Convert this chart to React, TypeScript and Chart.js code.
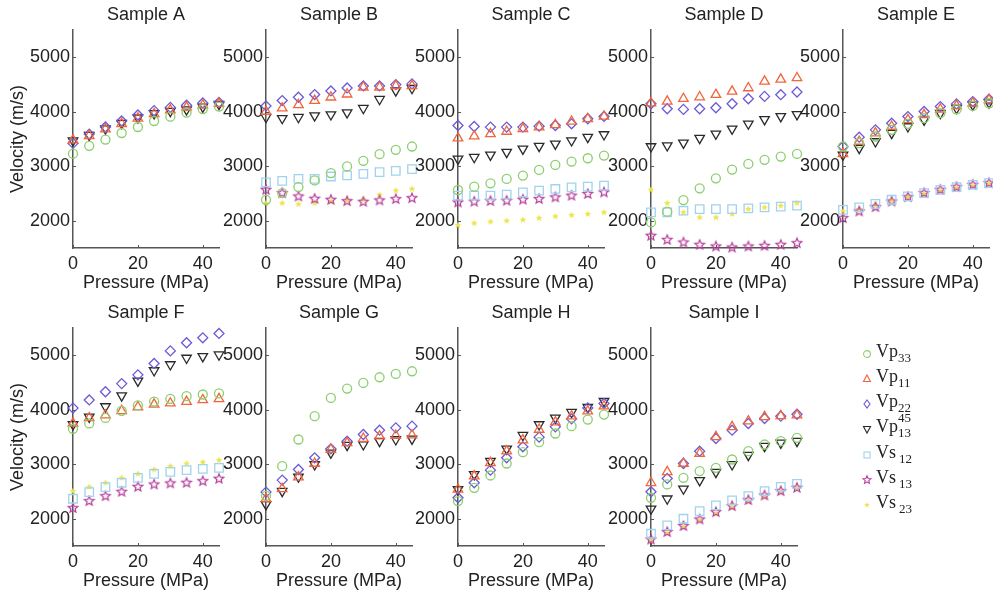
import React, { useEffect, useRef } from 'react';
import { Chart, registerables } from 'chart.js';

Chart.register(...registerables);

// ---------- data ----------
const pressure = [0, 5, 10, 15, 20, 25, 30, 35, 40, 45];
const xTickValues = [0, 20, 40];
const yTickValues = [2000, 3000, 4000, 5000];
const seriesNames = ['Vp33', 'Vp11', 'Vp22', 'Vp13', 'Vs12', 'Vs13', 'Vs23'];
const panelTitles = ['Sample A', 'Sample B', 'Sample C', 'Sample D', 'Sample E', 'Sample F', 'Sample G', 'Sample H', 'Sample I'];

// order of rows: Vp33, Vp11, Vp22, Vp13, Vs12, Vs13, Vs23 (null = not measured)
const sampleA = [
  [3230, 3375, 3490, 3610, 3720, 3830, 3910, 3985, 4050, 4095],
  [3480, 3560, 3680, 3780, 3880, 3960, 4030, 4080, 4120, 4150],
  [3420, 3590, 3720, 3830, 3940, 4020, 4080, 4120, 4160, 4170],
  [3470, 3570, 3690, 3790, 3890, 3970, 4010, 4040, 4090, 4140],
  null, null, null,
];
const sampleB = [
  [2385, 2507, 2617, 2739, 2874, 2996, 3100, 3222, 3301, 3362],
  [4004, 4065, 4126, 4205, 4266, 4321, 4450, 4450, 4474, 4474],
  [4107, 4205, 4266, 4315, 4382, 4437, 4474, 4474, 4498, 4511],
  [3900, 3880, 3900, 3930, 3949, 3985, 4065, 4230, 4388, 4431],
  [2703, 2733, 2770, 2770, 2812, 2831, 2861, 2892, 2916, 2947],
  [2568, 2507, 2446, 2403, 2385, 2360, 2348, 2373, 2397, 2415],
  [2324, 2324, 2305, 2324, 2354, 2373, 2385, 2476, 2556, 2586],
];
const sampleC = [
  [2564, 2626, 2687, 2767, 2828, 2933, 3025, 3086, 3147, 3196],
  [3515, 3552, 3595, 3638, 3687, 3718, 3761, 3822, 3871, 3914],
  [3748, 3730, 3718, 3718, 3718, 3736, 3748, 3779, 3871, 3914],
  [3135, 3166, 3208, 3258, 3319, 3368, 3411, 3472, 3534, 3583],
  [2460, 2460, 2460, 2479, 2521, 2552, 2583, 2613, 2626, 2644],
  [2337, 2350, 2362, 2368, 2387, 2399, 2429, 2460, 2491, 2521],
  [1920, 1957, 1982, 2000, 2018, 2049, 2080, 2104, 2123, 2153],
];
const sampleD = [
  [1969, 2166, 2380, 2595, 2779, 2939, 3043, 3117, 3178, 3227],
  [4160, 4190, 4239, 4270, 4313, 4374, 4436, 4558, 4595, 4620],
  [4147, 4055, 4043, 4055, 4074, 4147, 4239, 4282, 4313, 4362],
  [3362, 3380, 3429, 3515, 3595, 3687, 3779, 3859, 3914, 3951],
  [2153, 2153, 2184, 2215, 2215, 2215, 2227, 2245, 2258, 2276],
  [1724, 1650, 1601, 1558, 1528, 1509, 1528, 1540, 1558, 1589],
  [2570, 2325, 2153, 2061, 2061, 2123, 2215, 2245, 2276, 2325],
];
const sampleE = [
  [3362, 3423, 3546, 3668, 3778, 3882, 3973, 4046, 4107, 4156],
  [3228, 3454, 3607, 3729, 3851, 3943, 4046, 4107, 4156, 4217],
  [3362, 3533, 3668, 3790, 3912, 4004, 4095, 4144, 4187, 4230],
  [3210, 3332, 3454, 3607, 3729, 3851, 3973, 4065, 4126, 4168],
  [2200, 2244, 2311, 2385, 2446, 2507, 2568, 2617, 2660, 2690],
  [2049, 2171, 2250, 2354, 2434, 2507, 2568, 2617, 2660, 2690],
  [2171, 2214, 2293, 2366, 2434, 2495, 2550, 2599, 2641, 2678],
];
const sampleF = [
  [3650, 3750, 3850, 3980, 4080, 4150, 4200, 4250, 4280, 4300],
  [3750, 3850, 3900, 3980, 4050, 4100, 4120, 4150, 4180, 4200],
  [4030, 4180, 4330, 4480, 4640, 4850, 5080, 5230, 5320, 5400],
  [3730, 3870, 4060, 4260, 4530, 4720, 4830, 4950, 4980, 5010],
  [2367, 2489, 2580, 2660, 2751, 2825, 2861, 2892, 2916, 2935],
  [2195, 2324, 2415, 2495, 2586, 2629, 2648, 2660, 2690, 2733],
  [2507, 2586, 2660, 2751, 2825, 2904, 2965, 3014, 3038, 3075],
];
const sampleG = [
  [2420, 2965, 3454, 3882, 4217, 4389, 4492, 4596, 4657, 4706],
  [2367, 2550, 2764, 3014, 3271, 3393, 3472, 3515, 3527, 3533],
  [2489, 2709, 2904, 3118, 3283, 3423, 3546, 3625, 3668, 3699],
  [2263, 2507, 2770, 2996, 3210, 3350, 3362, 3423, 3454, 3466],
  null, null, null,
];
const sampleH = [
  [2324, 2568, 2794, 3014, 3222, 3405, 3564, 3699, 3820, 3912],
  [2538, 2782, 3026, 3240, 3442, 3638, 3772, 3882, 3973, 4065],
  [2385, 2660, 2892, 3118, 3320, 3497, 3686, 3833, 4034, 4114],
  [2538, 2813, 3057, 3283, 3533, 3729, 3851, 3955, 4046, 4156],
  null, null, null,
];
const sampleI = [
  [2385, 2629, 2751, 2874, 2935, 3087, 3240, 3362, 3423, 3484],
  [2660, 2861, 3014, 3197, 3503, 3686, 3790, 3870, 3888, 3900],
  [2495, 2740, 3014, 3240, 3472, 3625, 3747, 3839, 3882, 3918],
  [2183, 2367, 2550, 2703, 2855, 2996, 3167, 3332, 3393, 3423],
  [1725, 1878, 2000, 2141, 2245, 2336, 2415, 2507, 2586, 2641],
  [1620, 1756, 1866, 1988, 2122, 2232, 2342, 2428, 2507, 2568],
  [1600, 1740, 1850, 1970, 2100, 2210, 2320, 2410, 2490, 2560],
];
const samples = [sampleA, sampleB, sampleC, sampleD, sampleE, sampleF, sampleG, sampleH, sampleI];

// ---------- style ----------
const FONT = "'Liberation Sans', Arial, Helvetica, sans-serif";
const TEXT = '#222222';
const AXIS = '#555555';
const colors = ['#8ccf6e', '#f2643c', '#6b5bd6', '#2a2a2a', '#9fd3ee', '#b8409c', '#efe24a'];

const COL_LEFT = [73, 266, 458, 651, 843];
const ROW_TOP = [0, 298];
const Y_AXIS_W = 73;
const AREA_W = 146;
const PAD_R = 14;
const AREA_H = 218;
const TITLE_H = 30;
const X_AXIS_H = 60;

function starPoints(cx: number, cy: number, R: number, r: number) {
  const pts: [number, number][] = [];
  for (let i = 0; i < 10; i++) {
    const a = -Math.PI / 2 + (i * Math.PI) / 5;
    const rad = i % 2 === 0 ? R : r;
    pts.push([cx + Math.cos(a) * rad, cy + Math.sin(a) * rad]);
  }
  return pts;
}

function makeStar(color: string, R: number, r: number, filled: boolean) {
  const c = document.createElement('canvas');
  const s = Math.ceil(R * 2 + 4);
  c.width = s;
  c.height = s;
  const ctx = c.getContext('2d')!;
  const pts = starPoints(s / 2, s / 2, R, r);
  ctx.beginPath();
  pts.forEach(([x, y], i) => (i ? ctx.lineTo(x, y) : ctx.moveTo(x, y)));
  ctx.closePath();
  if (filled) {
    ctx.fillStyle = color;
    ctx.fill();
  } else {
    ctx.strokeStyle = color;
    ctx.lineWidth = 1.2;
    ctx.stroke();
  }
  return c;
}

const innerTicks = {
  id: 'innerTicks',
  afterDraw(chart: any) {
    const { ctx, chartArea, scales } = chart;
    ctx.save();
    ctx.strokeStyle = AXIS;
    ctx.lineWidth = 1;
    xTickValues.forEach((v) => {
      const px = Math.round(scales.x.getPixelForValue(v)) + 0.5;
      ctx.beginPath();
      ctx.moveTo(px, chartArea.bottom);
      ctx.lineTo(px, chartArea.bottom - 3);
      ctx.stroke();
    });
    yTickValues.forEach((v) => {
      const py = Math.round(scales.y.getPixelForValue(v)) + 0.5;
      ctx.beginPath();
      ctx.moveTo(chartArea.left, py);
      ctx.lineTo(chartArea.left + 3, py);
      ctx.stroke();
    });
    ctx.restore();
  },
};

function Panel({ index }: { index: number }) {
  const ref = useRef<HTMLCanvasElement>(null);
  const col = index % 5;
  const row = Math.floor(index / 5);
  const left = COL_LEFT[col] - Y_AXIS_W;
  const top = ROW_TOP[row];
  const width = Y_AXIS_W + AREA_W + PAD_R;
  const height = TITLE_H + AREA_H + X_AXIS_H;

  useEffect(() => {
    if (!ref.current) return;
    const starImg = makeStar(colors[5], 5, 2.2, false);
    const yellowImg = makeStar(colors[6], 3.6, 1.6, true);
    const styles: any[] = [
      { pointStyle: 'circle', radius: 4.5, rotation: 0 },
      { pointStyle: 'triangle', radius: 5.5, rotation: 0 },
      { pointStyle: 'rectRot', radius: 5, rotation: 0 },
      { pointStyle: 'triangle', radius: 5.5, rotation: 180 },
      { pointStyle: 'rect', radius: 6, rotation: 0 },
      { pointStyle: starImg, radius: 5, rotation: 0 },
      { pointStyle: yellowImg, radius: 4, rotation: 0 },
    ];
    const sample = samples[index];
    const datasets: any[] = [];
    sample.forEach((vals, si) => {
      if (!vals) return;
      datasets.push({
        label: seriesNames[si],
        data: pressure.map((p, i) => ({ x: p, y: vals[i] })),
        showLine: false,
        pointStyle: styles[si].pointStyle,
        pointRadius: styles[si].radius,
        pointRotation: styles[si].rotation,
        borderColor: colors[si],
        backgroundColor: 'rgba(0,0,0,0)',
        pointBorderWidth: 1.3,
        clip: false,
      });
    });

    const tickFont = { size: 18, family: FONT, weight: 'normal' as const };
    const chart = new Chart(ref.current, {
      type: 'scatter',
      data: { datasets },
      options: {
        animation: false,
        responsive: false,
        devicePixelRatio: 1,
        events: [],
        layout: { padding: { left: 0, right: PAD_R, top: 0, bottom: 0 } },
        plugins: {
          legend: { display: false },
          tooltip: { enabled: false },
          title: {
            display: true,
            text: panelTitles[index],
            fullSize: false,
            color: TEXT,
            font: { size: 18, family: FONT, weight: 'normal' },
            padding: { top: 4, bottom: 4.4 },
          },
        },
        scales: {
          x: {
            type: 'linear',
            min: 0,
            max: 45,
            afterBuildTicks: (s: any) => {
              s.ticks = xTickValues.map((v) => ({ value: v }));
            },
            afterFit: (s: any) => {
              s.height = X_AXIS_H;
            },
            grid: { display: true, drawOnChartArea: false, drawTicks: false },
            border: { display: true, color: AXIS, width: 1.5 },
            ticks: {
              padding: 5,
              color: TEXT,
              font: tickFont,
              maxRotation: 0,
              autoSkip: false,
              callback: (v: any) => String(v),
            },
            title: {
              display: true,
              text: 'Pressure (MPa)',
              color: TEXT,
              font: { size: 18, family: FONT },
              padding: { top: 0, bottom: 14 },
            },
          },
          y: {
            type: 'linear',
            min: 1500,
            max: 5500,
            afterBuildTicks: (s: any) => {
              s.ticks = yTickValues.map((v) => ({ value: v }));
            },
            afterFit: (s: any) => {
              s.width = Y_AXIS_W;
            },
            grid: { display: true, drawOnChartArea: false, drawTicks: false },
            border: { display: true, color: AXIS, width: 1.5 },
            ticks: {
              padding: 3,
              color: TEXT,
              font: tickFont,
              autoSkip: false,
              callback: (v: any) => String(v),
            },
            title: {
              display: col === 0,
              text: 'Velocity (m/s)',
              color: TEXT,
              font: { size: 18, family: FONT },
              padding: { top: 7, bottom: 0 },
            },
          },
        },
      } as any,
      plugins: [innerTicks],
    });
    return () => chart.destroy();
  }, [index]);

  return (
    <canvas
      ref={ref}
      width={width}
      height={height}
      style={{ position: 'absolute', left, top, width, height }}
    />
  );
}

function Marker({ i }: { i: number }) {
  const c = colors[i];
  const common = { fill: 'none', stroke: c, strokeWidth: 1.1 };
  let shape: React.ReactNode = null;
  if (i === 0) shape = <circle cx={7} cy={7} r={3.4} {...common} />;
  if (i === 1) shape = <polygon points="7,3 10.5,9.5 3.5,9.5" {...common} />;
  if (i === 2) shape = <polygon points="7,3 10,7 7,11 4,7" {...common} />;
  if (i === 3) shape = <polygon points="3.5,4.5 10.5,4.5 7,11" {...common} />;
  if (i === 4) shape = <rect x={4} y={4} width={6} height={6} {...common} />;
  if (i === 5)
    shape = <polygon points={starPoints(7, 7, 4.2, 1.9).map((p) => p.join(',')).join(' ')} {...common} />;
  if (i === 6)
    shape = <polygon points={starPoints(7, 7, 3.0, 1.3).map((p) => p.join(',')).join(' ')} fill={c} stroke="none" />;
  return (
    <svg width={14} height={14} style={{ position: 'absolute', left: 860, top: 0 }}>
      {shape}
    </svg>
  );
}

const legendCenters = [354, 379, 404, 429, 455, 480, 505];
const legendMain = ['p', 'p', 'p', 'p', 's', 's', 's'];
const legendSub = ['33', '11', '22', '13', '12', '13', '23'];

function Legend() {
  const serif = "'Liberation Serif', 'Times New Roman', serif";
  return (
    <>
      {seriesNames.map((name, i) => (
        <div key={name} style={{ position: 'absolute', left: 0, top: legendCenters[i] - 7, width: 993, height: 14 }}>
          <Marker i={i} />
          <div
            style={{
              position: 'absolute',
              left: 876,
              top: -5,
              fontFamily: serif,
              fontSize: 18,
              lineHeight: '18px',
              color: TEXT,
              whiteSpace: 'nowrap',
            }}
          >
            V{legendMain[i]}
            <span
              style={{
                position: 'relative',
                display: 'inline-block',
                fontSize: 13,
                top: 5,
                marginLeft: i >= 4 ? 3 : 0,
              }}
            >
              {legendSub[i]}
              {i === 3 && (
                <span style={{ position: 'absolute', left: 0, top: -15 }}>45</span>
              )}
            </span>
          </div>
        </div>
      ))}
    </>
  );
}

export default function App() {
  return (
    <div
      style={{
        position: 'absolute',
        left: 0,
        top: 0,
        width: 993,
        height: 595,
        overflow: 'hidden',
        background: '#ffffff',
      }}
    >
      {panelTitles.map((t, i) => (
        <Panel key={t} index={i} />
      ))}
      <Legend />
    </div>
  );
}
